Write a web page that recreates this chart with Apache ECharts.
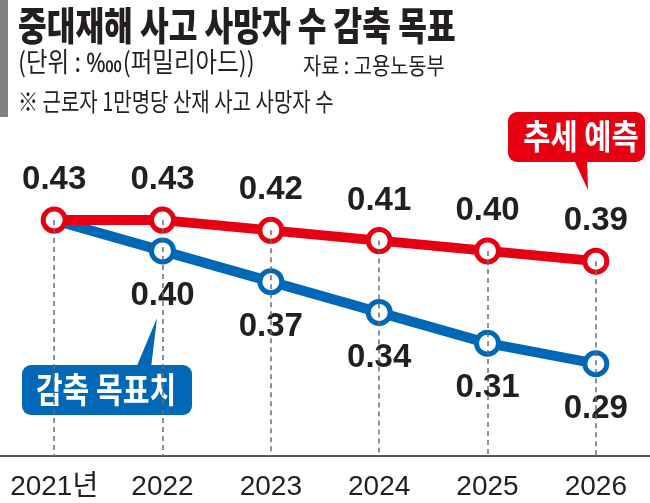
<!DOCTYPE html>
<html>
<head>
<meta charset="utf-8">
<script src="https://cdn.jsdelivr.net/npm/echarts@6/dist/echarts.min.js"></script>
<style>
html,body{margin:0;padding:0;background:#fff;}
#chart{width:650px;height:503px;}
</style>
</head>
<body>
<div id="chart"></div>
<script>
// ---- data ----
var years = ['2021년', '2022', '2023', '2024', '2025', '2026'];
var trendForecast = [0.43, 0.43, 0.42, 0.41, 0.40, 0.39];   // 추세 예측
var reductionTarget = [0.43, 0.40, 0.37, 0.34, 0.31, 0.29]; // 감축 목표치
var yMin = 0.2, yMax = 0.45;

var titleText = '중대재해 사고 사망자 수 감축 목표';
var unitText = '(단위 : \u2031(퍼밀리아드))';
var sourceText = '자료 : 고용노동부';
var noteText = '※ 근로자 1만명당 산재 사고 사망자 수';

var RED = '#e60012', BLUE = '#0068b7', INK = '#231f20';
var KR = "'Noto Sans CJK KR', sans-serif";
var NUM = "'Liberation Sans', 'Noto Sans CJK KR', sans-serif";

var chart = echarts.init(document.getElementById('chart'), null, {renderer: 'canvas'});

var dropLines = years.map(function (y, i) {
  return [{coord: [y, trendForecast[i]]}, {coord: [y, yMin]}];
});

var blueData = reductionTarget.map(function (v, i) {
  if (i === 0) return {value: v, symbol: 'none', label: {show: false}};
  return v;
});

var option = {
  animation: false,
  backgroundColor: '#fff',
  grid: {left: 0, right: 0, top: 199.6, bottom: 47},
  xAxis: {
    type: 'category',
    data: years,
    boundaryGap: true,
    axisLine: {show: true, lineStyle: {color: INK, width: 1.5}},
    axisTick: {show: false},
    axisLabel: {interval: 0, color: INK, fontSize: 28, fontFamily: NUM, margin: 17}
  },
  yAxis: {
    type: 'value', min: yMin, max: yMax, show: false,
    splitLine: {show: false}
  },
  series: [
    {
      type: 'line', data: [], z: 1, silent: true,
      markLine: {
        silent: true, symbol: ['none', 'none'],
        label: {show: false},
        lineStyle: {color: '#6d6d6d', width: 1.5, type: [5, 4]},
        data: dropLines
      }
    },
    {
      name: '감축 목표치', type: 'line', z: 3, data: blueData,
      symbol: 'circle', symbolSize: 22,
      lineStyle: {color: BLUE, width: 10},
      itemStyle: {color: '#fff', borderColor: BLUE, borderWidth: 5},
      label: {show: true, position: 'inside', offset: [0, 45],
        color: INK, fontSize: 33, fontWeight: 'bold', fontFamily: NUM,
        formatter: function (p) { return p.value.toFixed(2); }}
    },
    {
      name: '추세 예측', type: 'line', z: 4, data: trendForecast,
      symbol: 'circle', symbolSize: 22,
      lineStyle: {color: RED, width: 10},
      itemStyle: {color: '#fff', borderColor: RED, borderWidth: 5},
      label: {show: true, position: 'inside', offset: [0, -40],
        color: INK, fontSize: 33, fontWeight: 'bold', fontFamily: NUM,
        formatter: function (p) { return p.value.toFixed(2); }}
    }
  ],
  graphic: [
    {type: 'rect', shape: {x: 0, y: 0, width: 8, height: 117}, style: {fill: '#808080'}},
    {type: 'text', x: 18, y: 25, scaleX: 0.8,
      style: {text: titleText, x: 0, y: 0, fill: INK, font: "900 39px " + KR, textVerticalAlign: 'middle'}},
    {type: 'text', x: 18, y: 62, scaleX: 0.87,
      style: {text: unitText, x: 0, y: 0, fill: INK, font: "27px " + KR, textVerticalAlign: 'middle'}},
    {type: 'text', x: 303, y: 65, scaleX: 0.86,
      style: {text: sourceText, x: 0, y: 0, fill: INK, font: "23px " + KR, textVerticalAlign: 'middle'}},
    {type: 'text', x: 18, y: 101, scaleX: 0.8,
      style: {text: noteText, x: 0, y: 0, fill: INK, font: "25px " + KR, textVerticalAlign: 'middle'}},
    // red callout
    {type: 'polygon', shape: {points: [[573, 158], [587, 158], [588, 190]]}, style: {fill: RED}},
    {type: 'rect', shape: {x: 508, y: 112, width: 137, height: 50, r: 9}, style: {fill: RED}},
    {type: 'text', x: 581, y: 136, scaleX: 0.87,
      style: {text: '추세 예측', x: 0, y: 0, fill: '#fff', font: "bold 34px " + KR, textAlign: 'center', textVerticalAlign: 'middle'}},
    // blue callout
    {type: 'polygon', shape: {points: [[136, 368], [151, 368], [157, 318]]}, style: {fill: BLUE}},
    {type: 'rect', shape: {x: 22, y: 365, width: 170, height: 50, r: 9}, style: {fill: BLUE}},
    {type: 'text', x: 106, y: 390, scaleX: 0.83,
      style: {text: '감축 목표치', x: 0, y: 0, fill: '#fff', font: "bold 35px " + KR, textAlign: 'center', textVerticalAlign: 'middle'}}
  ]
};
chart.setOption(option);
</script>
</body>
</html>
